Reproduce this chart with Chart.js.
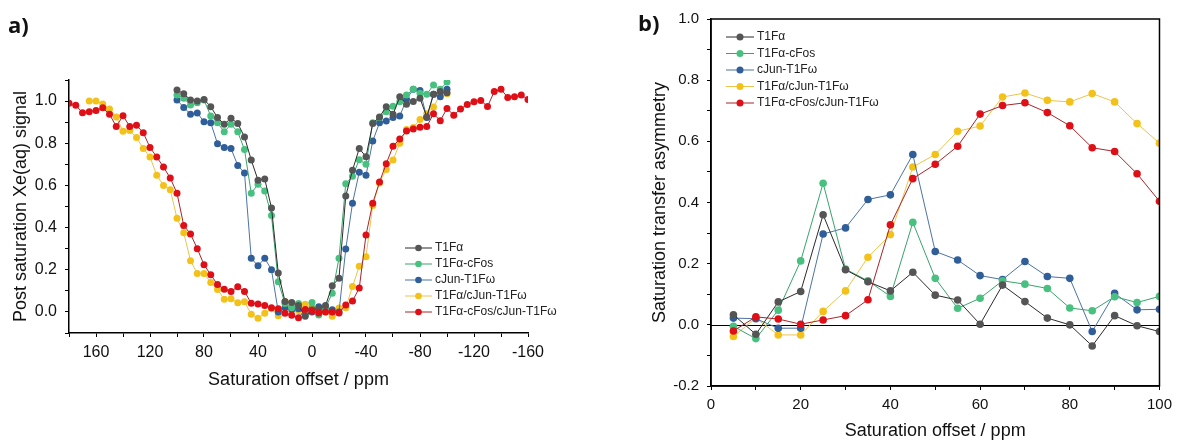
<!DOCTYPE html>
<html>
<head>
<meta charset="utf-8">
<script src="https://cdn.jsdelivr.net/npm/chart.js@4.4.1/dist/chart.umd.min.js"></script>
<style>
  body { margin: 0; background: #fff; width: 1178px; height: 442px; position: relative; overflow: hidden; }
  #wrapA { position: absolute; left: 0; top: 0; width: 590px; height: 442px; }
  #wrapB { position: absolute; left: 590px; top: 0; width: 588px; height: 442px; }
  .tag { position: absolute; font-family: "Open Sans", sans-serif; font-weight: 700; font-size: 22px; line-height: 1; color: #111; }
</style>
</head>
<body>
<div id="wrapA"><canvas id="chartA" width="590" height="442"></canvas></div>
<div id="wrapB"><canvas id="chartB" width="588" height="442"></canvas></div>
<div class="tag" style="left:8px; top:13px">a)</div>
<div class="tag" style="left:638px; top:11px">b)</div>
<script>
// series names + colours
const seriesNames = ['T1F\u03b1', 'T1F\u03b1-cFos', 'cJun-T1F\u03c9', 'T1F\u03b1/cJun-T1F\u03c9', 'T1F\u03b1-cFos/cJun-T1F\u03c9'];
const pointColors = ['#555555', '#48c07f', '#2f5e99', '#f3c21a', '#de0f17'];
const lineColors = ['#2b2b2b', '#3aa36c', '#4d73a3', '#ebc44e', '#a8242a'];

// ---- panel a) : z-spectra ----
const ppmA = [100, 95, 90, 85, 80, 75, 70, 65, 60, 55, 50, 45, 40, 35, 30, 25, 20, 15, 10, 5, 0,
  -5, -10, -15, -20, -25, -30, -35, -40, -45, -50, -55, -60, -65, -70, -75, -80, -85, -90, -95, -100];
const ppmYellow = [165, 160, 155, 150, 145, 140, 135, 130, 125, 120, 115, 110, 105, 100, 95, 90, 85, 80,
  75, 70, 65, 60, 55, 50, 45, 40, 35, 30, 25, 20, 15, 10, 5, 0, -5, -10, -15, -20, -25, -30, -35, -40,
  -45, -50, -55, -60, -65, -70, -75, -80, -85, -90, -95, -100];
const ppmRed = [180, 175, 170, 165, 160, 155, 150, 145, 140, 135, 130, 125, 120, 115, 110, 105, 100, 95,
  90, 85, 80, 75, 70, 65, 60, 55, 50, 45, 40, 35, 30, 25, 20, 15, 10, 5, 0, -5, -10, -15, -20, -25, -30,
  -35, -40, -45, -50, -55, -60, -65, -70, -75, -80, -85, -90, -95, -100, -105, -110, -115, -120, -125,
  -130, -135, -140, -145, -150, -155, -160];

const sigT1f = [1.052, 1.035, 1.005, 1.0, 1.008, 0.973, 0.922, 0.89, 0.919, 0.894, 0.83, 0.72, 0.625, 0.63,
  0.493, 0.185, 0.05, 0.045, 0.03, -0.02, 0.01, 0.015, 0.03, 0.124, 0.16, 0.55, 0.672, 0.775, 0.736,
  0.894, 0.925, 0.973, 0.937, 1.02, 0.985, 0.998, 1.013, 0.925, 1.033, 1.045, 1.04];
const sigCfos = [1.029, 1.013, 0.981, 0.992, 1.005, 0.929, 0.897, 0.854, 0.89, 0.854, 0.77, 0.563, 0.605,
  0.573, 0.457, 0.143, 0.04, 0.02, 0.04, -0.01, 0.045, -0.015, 0.02, 0.089, 0.254, 0.608, 0.643, 0.722,
  0.70, 0.897, 0.922, 0.95, 0.976, 0.997, 1.029, 1.056, 1.037, 1.033, 1.076, 1.056, 1.09];
const sigCjun = [1.005, 0.97, 0.938, 0.944, 0.902, 0.897, 0.798, 0.78, 0.775, 0.695, 0.659, 0.254, 0.219,
  0.254, 0.2, 0.0, 0.02, 0.01, 0.015, -0.01, 0.0, 0.024, 0.02, 0.01, 0.0, 0.298, 0.516, 0.663, 0.648,
  0.811, 0.897, 0.906, 0.922, 0.929, 1.008, 1.056, 1.05, 0.922, 1.033, 1.02, 1.056];
const sigT1fCjun = [1.0, 1.0, 0.986, 0.962, 0.925, 0.857, 0.86, 0.827, 0.775, 0.735, 0.648, 0.60, 0.58,
  0.444, 0.375, 0.243, 0.182, 0.182, 0.139, 0.106, 0.06, 0.062, 0.044, 0.048, -0.011, -0.03, -0.006,
  0.015, -0.018, 0.05, 0.016, 0.005, 0.036, 0.02, 0.012, 0.0, -0.02, 0.018, 0.02, 0.12, 0.217, 0.262,
  0.505, 0.612, 0.676, 0.72, 0.80, 0.865, 0.875, 0.913, 0.94, 0.972, 1.03, 1.035];
const sigAll = [0.99, 0.98, 0.945, 0.95, 0.955, 0.968, 0.937, 0.88, 0.93, 0.88, 0.885, 0.85, 0.78, 0.735,
  0.687, 0.635, 0.563, 0.41, 0.37, 0.30, 0.224, 0.176, 0.13, 0.107, 0.097, 0.119, 0.097, 0.041, 0.038,
  0.03, 0.02, 0.015, -0.006, -0.016, -0.028, 0.012, 0.003, -0.005, 0.0, 0.0, -0.005, 0.033, 0.052, 0.113,
  0.365, 0.516, 0.616, 0.703, 0.786, 0.82, 0.858, 0.868, 0.876, 0.879, 0.94, 0.907, 0.965, 0.933, 0.963,
  0.984, 0.997, 1.003, 0.974, 1.045, 1.056, 1.017, 1.02, 1.029, 1.008];

// ---- panel b) : asymmetry ----
const ppmB = [5, 10, 15, 20, 25, 30, 35, 40, 45, 50, 55, 60, 65, 70, 75, 80, 85, 90, 95, 100];
const asymT1f = [0.033, -0.031, 0.075, 0.109, 0.36, 0.18, 0.141, 0.111, 0.172, 0.097, 0.081, 0.002, 0.13,
  0.076, 0.022, 0.0, -0.069, 0.03, -0.003, -0.022];
const asymCfos = [-0.005, -0.045, 0.048, 0.209, 0.463, 0.182, 0.144, 0.093, 0.335, 0.152, 0.054, 0.087,
  0.144, 0.133, 0.119, 0.055, 0.046, 0.092, 0.073, 0.093];
const asymCjun = [0.022, 0.02, -0.011, -0.011, 0.297, 0.317, 0.41, 0.425, 0.557, 0.24, 0.212, 0.161, 0.148,
  0.207, 0.158, 0.152, -0.022, 0.103, 0.049, 0.051];
const asymT1fCjun = [-0.038, 0.022, -0.033, -0.033, 0.044, 0.111, 0.221, 0.295, 0.516, 0.557, 0.633, 0.65,
  0.745, 0.758, 0.734, 0.729, 0.756, 0.729, 0.658, 0.594];
const asymAll = [-0.02, 0.026, 0.019, 0.002, 0.016, 0.03, 0.082, 0.327, 0.478, 0.525, 0.584, 0.689, 0.717,
  0.726, 0.694, 0.651, 0.579, 0.567, 0.494, 0.404];

const FONT = '"Liberation Sans", Arial, sans-serif';
const drawOrder = [1, 2, 3, 4, 0];

function pts(xs, ys) {
  return xs.map((x, i) => ({ x: x, y: ys[i] }));
}

function makeSets(xsList, ysList, radius) {
  return ysList.map((ys, i) => ({
    label: seriesNames[i],
    data: pts(xsList[i], ys),
    borderColor: lineColors[i],
    backgroundColor: pointColors[i],
    pointBackgroundColor: pointColors[i],
    pointBorderColor: pointColors[i],
    pointBorderWidth: 0,
    pointRadius: radius,
    borderWidth: 1,
    tension: 0,
    order: drawOrder[i]
  }));
}

// y labels every 0.2, minor ticks in between
function evenTenths(v) {
  if (Math.abs(v) < 1e-9) return '0.0';
  return Math.round(v * 10) % 2 === 0 ? v.toFixed(1) : '';
}

// legend drawn inside the plot
const innerLegend = {
  id: 'innerLegend',
  afterDraw(chart, args, o) {
    const ctx = chart.ctx;
    ctx.save();
    ctx.font = o.font;
    ctx.textBaseline = 'middle';
    chart.data.datasets.forEach((ds, i) => {
      const y = o.y + i * o.gap;
      ctx.strokeStyle = ds.borderColor;
      ctx.lineWidth = 1;
      ctx.beginPath();
      ctx.moveTo(o.x, y);
      ctx.lineTo(o.x + o.len, y);
      ctx.stroke();
      ctx.fillStyle = ds.pointBackgroundColor;
      ctx.beginPath();
      ctx.arc(o.x + o.len / 2, y, o.r, 0, Math.PI * 2);
      ctx.fill();
      ctx.fillStyle = '#222';
      ctx.fillText(ds.label, o.x + o.len + 3, y);
    });
    ctx.restore();
  }
};

// box + zero line for panel b
const frameB = {
  id: 'frameB',
  beforeDatasetsDraw(chart) {
    const { ctx, chartArea: a, scales } = chart;
    const y0 = scales.y.getPixelForValue(0);
    ctx.save();
    ctx.strokeStyle = '#000';
    ctx.lineWidth = 1;
    ctx.beginPath();
    ctx.moveTo(a.left, Math.round(y0) + 0.5);
    ctx.lineTo(a.right, Math.round(y0) + 0.5);
    ctx.stroke();
    ctx.restore();
  },
  afterDraw(chart) {
    const { ctx, chartArea: a } = chart;
    ctx.save();
    ctx.strokeStyle = '#000';
    ctx.lineWidth = 1.5;
    ctx.strokeRect(a.left, a.top, a.right - a.left, a.bottom - a.top);
    ctx.restore();
  }
};

function axisGrid() {
  return { display: true, drawOnChartArea: false, drawTicks: true, tickLength: 4, color: '#000' };
}
function axisBorder() {
  return { display: true, color: '#000', width: 1.5 };
}

// panel a
new Chart(document.getElementById('chartA'), {
  type: 'line',
  data: {
    datasets: makeSets([ppmA, ppmA, ppmA, ppmYellow, ppmRed],
      [sigT1f, sigCfos, sigCjun, sigT1fCjun, sigAll], 3.5)
  },
  plugins: [innerLegend],
  options: {
    responsive: false,
    animation: false,
    layout: { padding: { top: 80, right: 62, left: 0, bottom: 51 } },
    plugins: {
      legend: { display: false },
      tooltip: { enabled: false },
      innerLegend: { x: 405, y: 248, gap: 16, len: 27, r: 3.3, font: '12px ' + FONT }
    },
    scales: {
      x: {
        type: 'linear',
        reverse: true,
        min: -160,
        max: 180,
        afterFit: s => { s.height = 58; },
        grid: axisGrid(),
        border: axisBorder(),
        ticks: {
          stepSize: 20,
          autoSkip: false,
          maxRotation: 0,
          includeBounds: false,
          padding: 6,
          color: '#111',
          font: { family: FONT, size: 16 },
          callback: v => (v % 40 === 0 ? String(v) : '')
        },
        title: { display: true, text: 'Saturation offset / ppm', color: '#111',
          font: { family: FONT, size: 18 }, padding: { top: 0, bottom: 0 } }
      },
      y: {
        type: 'linear',
        min: -0.1,
        max: 1.1,
        afterFit: s => { s.width = 69; },
        grid: axisGrid(),
        border: axisBorder(),
        ticks: {
          stepSize: 0.1,
          autoSkip: false,
          padding: 8,
          color: '#111',
          font: { family: FONT, size: 16 },
          callback: evenTenths
        },
        title: { display: true, text: 'Post saturation Xe(aq) signal', color: '#111',
          font: { family: FONT, size: 18 }, padding: { top: 10, bottom: 0 } }
      }
    }
  }
});

// panel b
new Chart(document.getElementById('chartB'), {
  type: 'line',
  data: {
    datasets: makeSets([ppmB, ppmB, ppmB, ppmB, ppmB],
      [asymT1f, asymCfos, asymCjun, asymT1fCjun, asymAll], 3.8)
  },
  plugins: [frameB, innerLegend],
  options: {
    responsive: false,
    animation: false,
    layout: { padding: { top: 19, right: 13, left: 59, bottom: 0 } },
    plugins: {
      legend: { display: false },
      tooltip: { enabled: false },
      innerLegend: { x: 136, y: 37, gap: 16.5, len: 28, r: 3.5, font: '12px ' + FONT }
    },
    scales: {
      x: {
        type: 'linear',
        min: 0,
        max: 100,
        afterFit: s => { s.height = 56; },
        grid: axisGrid(),
        border: axisBorder(),
        ticks: {
          stepSize: 10,
          autoSkip: false,
          maxRotation: 0,
          padding: 6,
          color: '#111',
          font: { family: FONT, size: 15 },
          callback: v => (v % 20 === 0 ? String(v) : '')
        },
        title: { display: true, text: 'Saturation offset / ppm', color: '#111',
          font: { family: FONT, size: 18 }, padding: { top: 0, bottom: 0 } }
      },
      y: {
        type: 'linear',
        min: -0.2,
        max: 1.0,
        afterFit: s => { s.width = 62; },
        grid: axisGrid(),
        border: axisBorder(),
        ticks: {
          stepSize: 0.1,
          autoSkip: false,
          padding: 8,
          color: '#111',
          font: { family: FONT, size: 15 },
          callback: evenTenths
        },
        title: { display: true, text: 'Saturation transfer asymmetry', color: '#111',
          font: { family: FONT, size: 18 }, padding: { top: 0, bottom: 0 } }
      }
    }
  }
});
</script>
</body>
</html>
